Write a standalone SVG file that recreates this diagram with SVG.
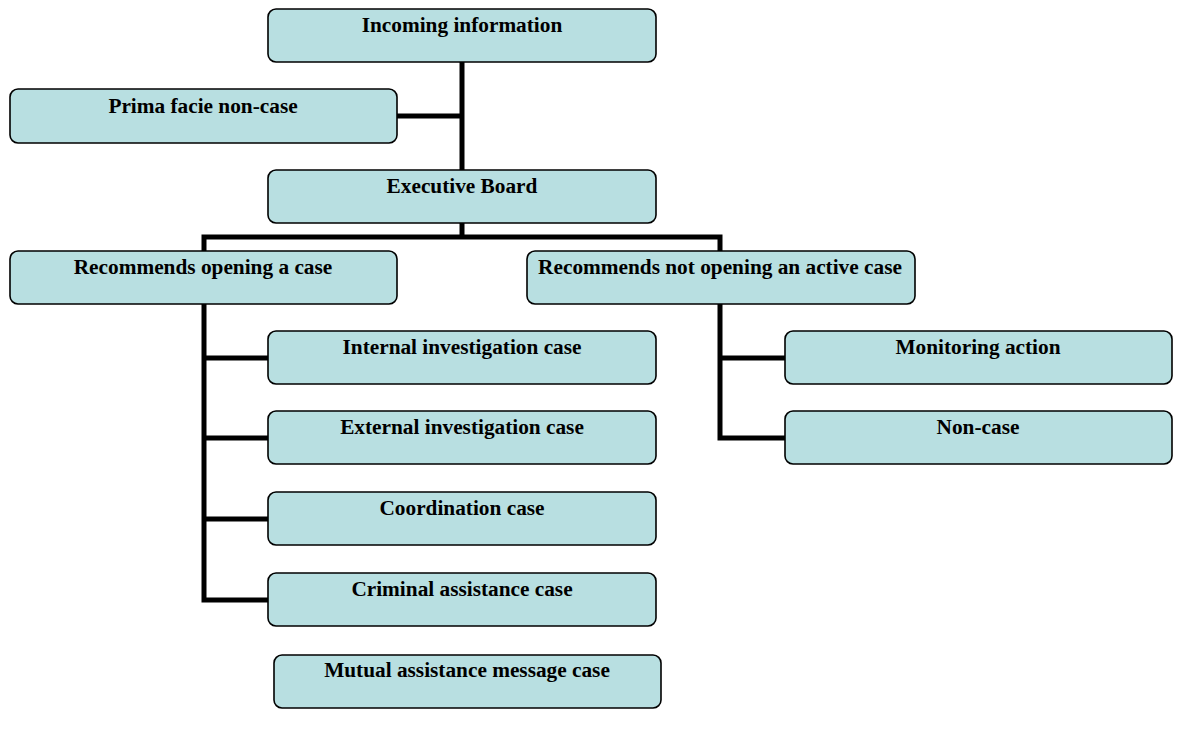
<svg xmlns="http://www.w3.org/2000/svg" width="1177" height="733" viewBox="0 0 1177 733">
<style>
.box{fill:#b8dfe1;stroke:#000;stroke-width:1.6}
.lbl{font-family:"Liberation Serif","Times New Roman",serif;font-weight:bold;font-size:21.3px;text-anchor:middle;fill:#000}
.con{fill:none;stroke:#000;stroke-width:5;stroke-linejoin:miter;stroke-linecap:butt}
</style>
<rect width="1177" height="733" fill="#fff"/>
<g id="connectors">
<path class="con" d="M462,62 V170 M397,116 H462 M462,223 V237 M204,251 V237 H720 V251"/>
<path class="con" d="M204,304 V600 H268 M204,358 H268 M204,438 H268 M204,519 H268"/>
<path class="con" d="M720,304 V438 H785 M720,358 H785"/>
</g>
<g id="incoming"><rect class="box" x="268" y="9" width="388" height="53" rx="8"/><text class="lbl" x="462" y="32">Incoming information</text></g>
<g id="prima"><rect class="box" x="10" y="89" width="387" height="54" rx="8"/><text class="lbl" x="203" y="113">Prima facie non-case</text></g>
<g id="board"><rect class="box" x="268" y="170" width="388" height="53" rx="8"/><text class="lbl" x="462" y="193">Executive Board</text></g>
<g id="open"><rect class="box" x="10" y="251" width="387" height="53" rx="8"/><text class="lbl" x="203" y="274">Recommends opening a case</text></g>
<g id="notopen"><rect class="box" x="527" y="251" width="388" height="53" rx="8"/><text class="lbl" x="720" y="274">Recommends not opening an active case</text></g>
<g id="internal"><rect class="box" x="268" y="331" width="388" height="53" rx="8"/><text class="lbl" x="462" y="354">Internal investigation case</text></g>
<g id="external"><rect class="box" x="268" y="411" width="388" height="53" rx="8"/><text class="lbl" x="462" y="434">External investigation case</text></g>
<g id="coordination"><rect class="box" x="268" y="492" width="388" height="53" rx="8"/><text class="lbl" x="462" y="515">Coordination case</text></g>
<g id="criminal"><rect class="box" x="268" y="573" width="388" height="53" rx="8"/><text class="lbl" x="462" y="596">Criminal assistance case</text></g>
<g id="mutual"><rect class="box" x="274" y="655" width="387" height="53" rx="8"/><text class="lbl" x="467" y="677">Mutual assistance message case</text></g>
<g id="monitoring"><rect class="box" x="785" y="331" width="387" height="53" rx="8"/><text class="lbl" x="978" y="354">Monitoring action</text></g>
<g id="noncase"><rect class="box" x="785" y="411" width="387" height="53" rx="8"/><text class="lbl" x="978" y="434">Non-case</text></g>
</svg>
